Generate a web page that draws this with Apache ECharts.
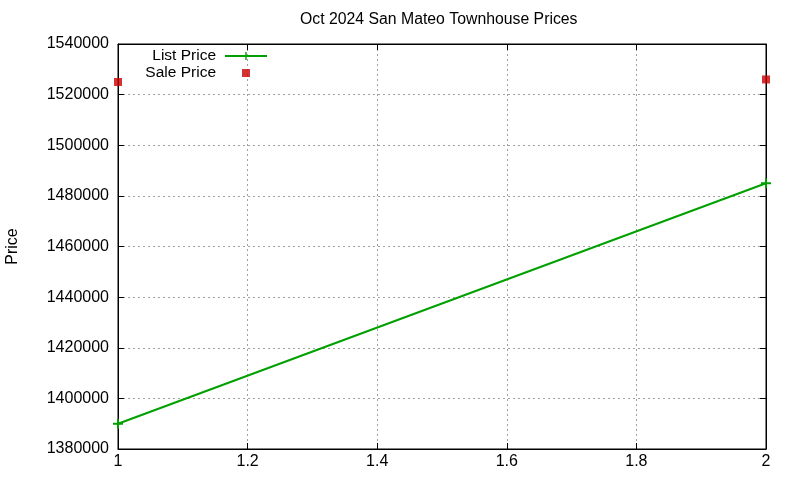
<!DOCTYPE html>
<html>
<head>
<meta charset="utf-8">
<script src="https://cdn.jsdelivr.net/npm/echarts@6/dist/echarts.min.js"></script>
<style>html,body{margin:0;padding:0;background:#fff}#c{width:800px;height:480px}</style>
</head>
<body>
<div id="c"></div>
<script>
const titleText = 'Oct 2024 San Mateo Townhouse Prices';
const yAxisName = 'Price';
const listX = [1, 2];
const listPrice = [1390000, 1485000];
const saleX = [1, 2];
const salePrice = [1525000, 1526000];
const xTicks = [1, 1.2, 1.4, 1.6, 1.8, 2];
const yTicks = [1380000, 1400000, 1420000, 1440000, 1460000, 1480000, 1500000, 1520000, 1540000];

const FONT = 'Liberation Sans, Arial, sans-serif';
const GREEN = '#00a000';
const RED = '#c80000';
const plusPath = 'path://M0 3.25H8V4.75H0Z M3.25 0H4.75V8H3.25Z';
const listIcon = 'path://M0 0L0 0Z M46 12L46 12Z M4 5.1H46V6.9H4Z M24.3 2H25.7V10H24.3Z';
const saleIcon = 'path://M0 0L0 0Z M46 12L46 12Z M21 2H29V10H21Z';

const chart = echarts.init(document.getElementById('c'), null, {renderer: 'canvas'});
const gridDash = {show: true, lineStyle: {color: '#a0a0a0', type: [2, 3], width: 1}};
const tickLen = 6;
chart.setOption({
  animation: false,
  backgroundColor: '#fff',
  textStyle: {fontFamily: FONT},
  title: {
    text: titleText, left: 300, top: 12, padding: 0,
    textStyle: {fontFamily: FONT, fontSize: 15.8, fontWeight: 'normal', color: '#000'}
  },
  legend: {
    orient: 'vertical', left: 144, top: 48, padding: 0, align: 'right',
    itemWidth: 46, itemHeight: 12, itemGap: 1,
    textStyle: {fontFamily: FONT, fontSize: 15.5, color: '#000', width: 72, align: 'right', lineHeight: 13},
    data: [{name: 'List Price', icon: listIcon}, {name: 'Sale Price', icon: saleIcon}]
  },
  grid: {left: 118, right: 34, top: 44, bottom: 31, show: true, borderColor: '#000', borderWidth: 1,
    containLabel: false, outerBoundsMode: 'none'},
  xAxis: [{
    type: 'value', min: xTicks[0], max: xTicks[xTicks.length - 1], interval: 0.2,
    axisLine: {show: true, lineStyle: {color: '#000'}},
    axisTick: {show: true, inside: true, length: tickLen, lineStyle: {color: '#000'}},
    axisLabel: {fontFamily: FONT, fontSize: 16, color: '#000', margin: 5,
      formatter: v => String(Math.round(v * 10) / 10)},
    splitLine: gridDash
  }, {
    type: 'value', position: 'top', min: xTicks[0], max: xTicks[xTicks.length - 1], interval: 0.2,
    axisLine: {show: true, lineStyle: {color: '#000'}},
    axisTick: {show: true, inside: true, length: tickLen, lineStyle: {color: '#000'}},
    axisLabel: {show: false}, splitLine: {show: false}
  }],
  yAxis: [{
    type: 'value', min: yTicks[0], max: yTicks[yTicks.length - 1], interval: 20000,
    name: yAxisName, nameLocation: 'middle', nameGap: 97, nameRotate: 90,
    nameTextStyle: {fontFamily: FONT, fontSize: 16, color: '#000'},
    axisLine: {show: true, lineStyle: {color: '#000'}},
    axisTick: {show: true, inside: true, length: tickLen, lineStyle: {color: '#000'}},
    axisLabel: {fontFamily: FONT, fontSize: 16, color: '#000', margin: 9,
      formatter: v => String(Math.round(v))},
    splitLine: gridDash
  }, {
    type: 'value', position: 'right', min: yTicks[0], max: yTicks[yTicks.length - 1], interval: 20000,
    axisLine: {show: true, lineStyle: {color: '#000'}},
    axisTick: {show: true, inside: true, length: tickLen, lineStyle: {color: '#000'}},
    axisLabel: {show: false}, splitLine: {show: false}
  }],
  series: [{
    name: 'List Price', type: 'line',
    data: listX.map((x, i) => [x, listPrice[i]]),
    symbol: plusPath, symbolSize: 10, showSymbol: true,
    lineStyle: {color: GREEN, width: 2}, itemStyle: {color: GREEN},
    clip: false, z: 3
  }, {
    name: 'Sale Price', type: 'scatter',
    data: saleX.map((x, i) => [x, salePrice[i]]),
    symbol: 'rect', symbolSize: 8, itemStyle: {color: RED}, clip: false, z: 4
  }]
});
</script>
</body>
</html>
